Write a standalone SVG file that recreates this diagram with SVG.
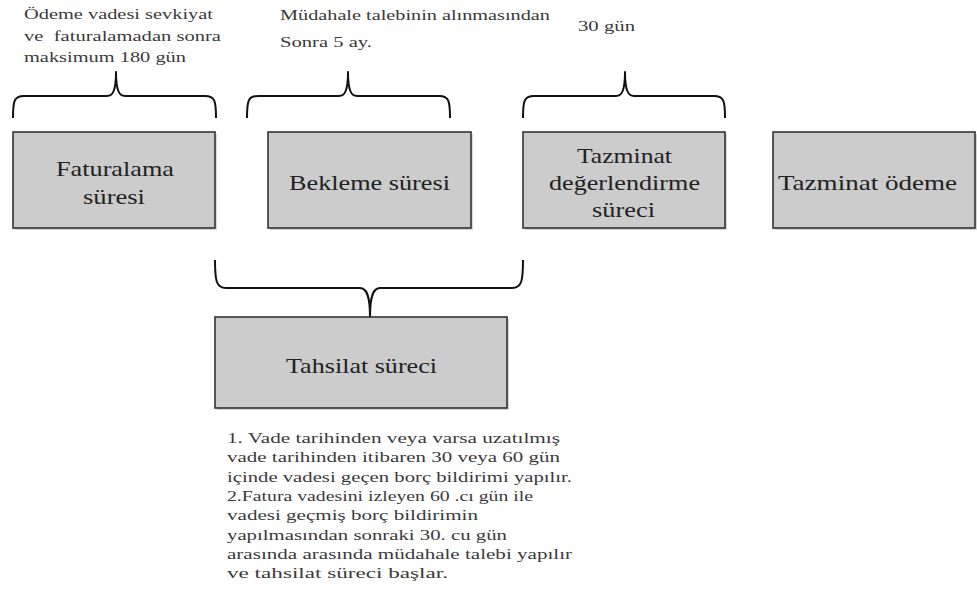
<svg xmlns="http://www.w3.org/2000/svg" width="977" height="606" viewBox="0 0 977 606">
<style>
.box{fill:#cccccc;stroke:#333333;stroke-width:1.6}
.shadow{fill:#bbbbbb;opacity:0.6}
.lbl{font-family:"Liberation Serif","DejaVu Serif","Times New Roman",serif;font-size:22px;fill:#222222}
.note{font-family:"Liberation Serif","DejaVu Serif","Times New Roman",serif;font-size:15px;fill:#3a3a3a}
.brace{fill:none;stroke:#111111;stroke-width:2;stroke-linejoin:round}
</style>
<rect width="977" height="606" fill="#ffffff"/>
<g id="connectors">
<path class="brace" d="M13,118 C13,101 14,96 24,96 L107,96 C113,96 116,90 116,72 C116,90 119,96 125,96 L205,96 C215,96 216,101 216,118"/>
<path class="brace" d="M247,118 C247,101 248,96 258,96 L339,96 C345,96 348,90 348,72 C348,90 351,96 357,96 L439,96 C449,96 450,101 450,118"/>
<path class="brace" d="M523,118 C523,101 524,96 534,96 L616,96 C622,96 625,90 625,72 C625,90 628,96 634,96 L714,96 C724,96 725,101 725,118"/>
<path class="brace" d="M215,260 C215,280 216,288 226,288 L360,288 C366,288 370,294 370,317 C370,294 374,288 380,288 L512,288 C522,288 523,280 523,260"/>
</g>
<g id="node-faturalama">
<rect class="shadow" x="15" y="134" width="202" height="96"/>
<rect class="box" x="13" y="132" width="202" height="96"/>
<text class="lbl" x="115" y="176" text-anchor="middle" textLength="118" lengthAdjust="spacingAndGlyphs">Faturalama</text>
<text class="lbl" x="114" y="204" text-anchor="middle" textLength="62" lengthAdjust="spacingAndGlyphs">süresi</text>
</g>
<g id="node-bekleme">
<rect class="shadow" x="270" y="134" width="203" height="96"/>
<rect class="box" x="268" y="132" width="203" height="96"/>
<text class="lbl" x="369.5" y="190" text-anchor="middle" textLength="161" lengthAdjust="spacingAndGlyphs">Bekleme süresi</text>
</g>
<g id="node-degerlendirme">
<rect class="shadow" x="525" y="134" width="202" height="96"/>
<rect class="box" x="523" y="132" width="202" height="96"/>
<text class="lbl" x="624.5" y="163" text-anchor="middle" textLength="95" lengthAdjust="spacingAndGlyphs">Tazminat</text>
<text class="lbl" x="624.5" y="190" text-anchor="middle" textLength="151" lengthAdjust="spacingAndGlyphs">değerlendirme</text>
<text class="lbl" x="623.5" y="217" text-anchor="middle" textLength="63" lengthAdjust="spacingAndGlyphs">süreci</text>
</g>
<g id="node-odeme">
<rect class="shadow" x="775" y="134" width="202" height="96"/>
<rect class="box" x="773" y="132" width="202" height="96"/>
<text class="lbl" x="867.5" y="190" text-anchor="middle" textLength="179" lengthAdjust="spacingAndGlyphs">Tazminat ödeme</text>
</g>
<g id="node-tahsilat">
<rect class="shadow" x="217" y="319" width="292" height="91"/>
<rect class="box" x="215" y="317" width="292" height="91"/>
<text class="lbl" x="361.5" y="373" text-anchor="middle" textLength="151" lengthAdjust="spacingAndGlyphs">Tahsilat süreci</text>
</g>
<g id="notes">
<text class="note" x="24" y="19" textLength="189" lengthAdjust="spacingAndGlyphs">Ödeme vadesi sevkiyat</text>
<text class="note" x="24" y="41" textLength="197" lengthAdjust="spacingAndGlyphs" xml:space="preserve">ve  faturalamadan sonra</text>
<text class="note" x="24" y="62" textLength="162" lengthAdjust="spacingAndGlyphs">maksimum 180 gün</text>
<text class="note" x="280" y="20" textLength="270" lengthAdjust="spacingAndGlyphs">Müdahale talebinin alınmasından</text>
<text class="note" x="280" y="47" textLength="92" lengthAdjust="spacingAndGlyphs">Sonra 5 ay.</text>
<text class="note" x="578" y="31" textLength="57" lengthAdjust="spacingAndGlyphs">30 gün</text>
<text class="note" x="227" y="443" textLength="333" lengthAdjust="spacingAndGlyphs">1. Vade tarihinden veya varsa uzatılmış</text>
<text class="note" x="227" y="462" textLength="333" lengthAdjust="spacingAndGlyphs">vade tarihinden itibaren 30 veya 60 gün</text>
<text class="note" x="227" y="482" textLength="345" lengthAdjust="spacingAndGlyphs">içinde vadesi geçen borç bildirimi yapılır.</text>
<text class="note" x="227" y="501" textLength="306" lengthAdjust="spacingAndGlyphs">2.Fatura vadesini izleyen 60 .cı gün ile</text>
<text class="note" x="227" y="520" textLength="251" lengthAdjust="spacingAndGlyphs">vadesi geçmiş borç bildirimin</text>
<text class="note" x="227" y="540" textLength="280" lengthAdjust="spacingAndGlyphs">yapılmasından sonraki 30. cu gün</text>
<text class="note" x="227" y="559" textLength="345" lengthAdjust="spacingAndGlyphs">arasında arasında müdahale talebi yapılır</text>
<text class="note" x="227" y="578" textLength="221" lengthAdjust="spacingAndGlyphs">ve tahsilat süreci başlar.</text>
</g>
</svg>
